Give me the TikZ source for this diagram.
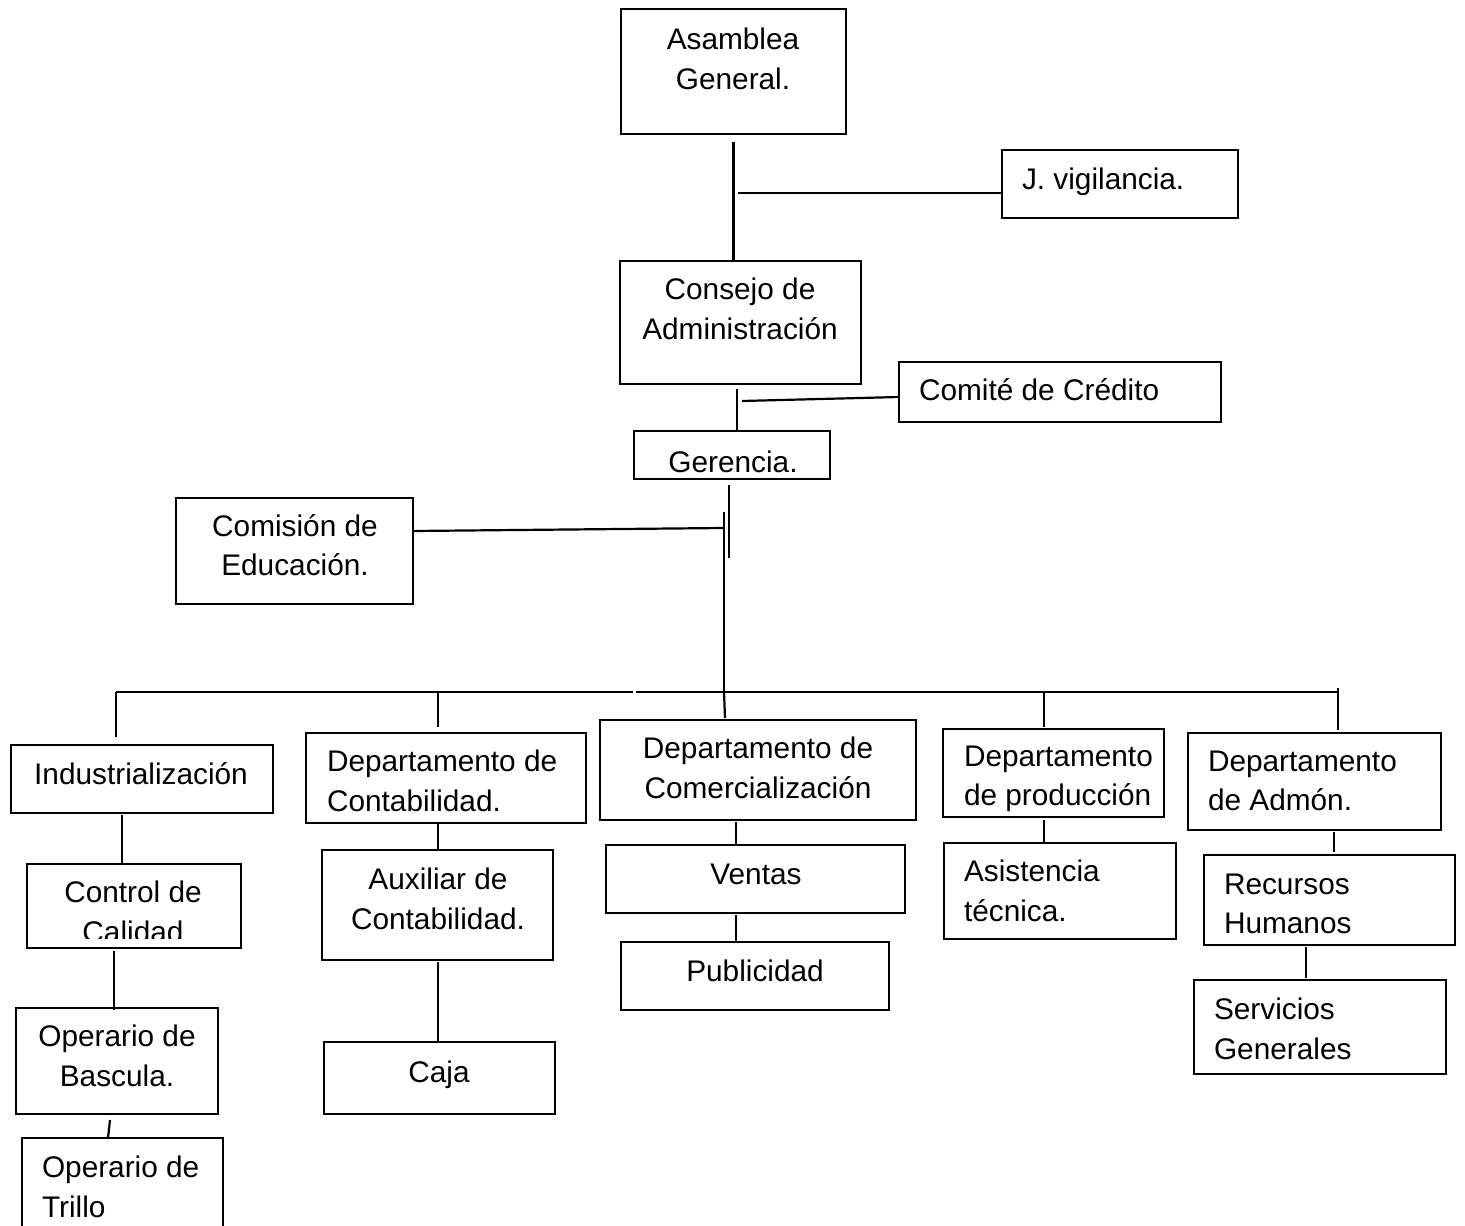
\documentclass[tikz,border=0pt]{standalone}
\usepackage{fontspec}
\setmainfont{Liberation Sans}
\usetikzlibrary{calc}
\begin{document}
\begin{tikzpicture}[x=1pt,y=-1pt,
  box/.style={draw,line width=2.4pt,rectangle,inner sep=0pt,outer sep=0pt},
  txt/.style={inner sep=0pt,outer sep=0pt,font=\fontsize{29.8}{39.5}\selectfont},
  ln/.style={line width=2.2pt}]
\useasboundingbox (0,0) rectangle (1465,1226);
\fill[white] (0,0) rectangle (1465,1226);
% boxes
\node[box,minimum width=225,minimum height=125] (asam) at (733.5,71.5) {};
\node[box,minimum width=236,minimum height=68] (vig) at (1120,184) {};
\node[box,minimum width=241,minimum height=123] (cons) at (740.5,322.5) {};
\node[box,minimum width=322,minimum height=60] (comi) at (1060,392) {};
\node[box,minimum width=196,minimum height=48] (ger) at (732,455) {};
\node[box,minimum width=237,minimum height=106] (edu) at (294.5,551) {};
\node[box,minimum width=262,minimum height=68] (ind) at (142,779) {};
\node[box,minimum width=280,minimum height=90] (cont) at (446,778) {};
\node[box,minimum width=316,minimum height=100] (com) at (758,770) {};
\node[box,minimum width=221,minimum height=88] (prod) at (1053.5,773) {};
\node[box,minimum width=253,minimum height=97] (adm) at (1314.5,781.5) {};
\node[box,minimum width=214,minimum height=84] (cal) at (134,906) {};
\node[box,minimum width=231,minimum height=110] (aux) at (437.5,905) {};
\node[box,minimum width=299,minimum height=68] (ven) at (755.5,879) {};
\node[box,minimum width=268,minimum height=68] (pub) at (755,976) {};
\node[box,minimum width=232,minimum height=96] (asis) at (1060,891) {};
\node[box,minimum width=251,minimum height=90] (rec) at (1329.5,900) {};
\node[box,minimum width=252,minimum height=94] (serv) at (1320,1027) {};
\node[box,minimum width=202,minimum height=106] (basc) at (117,1061) {};
\node[box,minimum width=231,minimum height=72] (caja) at (439.5,1078) {};
\node[box,minimum width=201,minimum height=124] (tri) at (122.5,1200) {};
% texts
\node[txt,align=center] (tasam) at (733,59) {Asamblea\\General.};
\node[txt,anchor=base west] (tvig) at (1022,189) {J. vigilancia.};
\node[txt,align=center] (tcons) at (740,309) {Consejo de\\Administración};
\node[txt,anchor=base west] (tcomi) at (919,400) {Comité de Crédito};
\node[txt,anchor=base] (tger) at (733,472) {Gerencia.};
\node[txt,align=center] (tedu) at (295,545) {Comisión de\\Educación.};
\node[txt,anchor=base] (tind) at (141,784) {Industrialización};
\node[txt,align=left,anchor=west] (tcont) at (327,781) {Departamento de\\Contabilidad.};
\node[txt,align=center] (tcom) at (758,768) {Departamento de\\Comercialización};
\node[txt,align=left,anchor=west] (tprod) at (964,779) {Departamento\\de producción};
\node[txt,align=left,anchor=west] (tadm) at (1208,781) {Departamento\\de Admón.};
\begin{scope}
\clip (27,864) rectangle (241,938);
\node[txt,align=center] (tcal) at (133,912) {Control de\\Calidad};
\end{scope}
\node[txt,align=center] (taux) at (438,899) {Auxiliar de\\Contabilidad.};
\node[txt,anchor=base] (tven) at (756,884) {Ventas};
\node[txt,anchor=base] (tpub) at (755,981) {Publicidad};
\node[txt,align=left,anchor=west] (tasis) at (964,891) {Asistencia\\técnica.};
\node[txt,align=left,anchor=west] (trec) at (1224,904) {Recursos\\Humanos};
\node[txt,align=left,anchor=west] (tserv) at (1214,1029) {Servicios\\Generales};
\node[txt,align=center] (tbasc) at (117,1056) {Operario de\\Bascula.};
\node[txt,anchor=base] (tcaja) at (439,1082) {Caja};
\node[txt,align=left,anchor=west] (ttri) at (42,1187) {Operario de\\Trillo};
% connectors
\draw[ln] ($(asam.south)+(0,8)$) -- (asam.south |- cons.north);
\draw[ln] ($(vig.west -| asam.south)+(4,9)$) -- ($(vig.west)+(0,9)$);
\draw[ln] ($(cons.south)+(-3.5,5)$) -- ($(ger.north)+(5,0)$);
\draw[ln] ($(cons.south)+(1.5,17)$) -- ($(comi.west)+(0,5)$);
\draw[ln] ($(ger.south)+(-3,6)$) -- ++(0,73);
\coordinate (trunk) at (724,512);
\coordinate (busC) at (724,692);
\coordinate (busL) at (116,692);
\coordinate (busR) at (1338,692);
\draw[ln] (trunk) -- (busC);
\draw[ln] ($(edu.east)+(0,-20)$) -- (724,528);
\draw[ln] (busL) -- (633,692);
\draw[ln] (636,692) -- (busR);
\draw[ln] (busL) -- ($(ind.north)+(-26,-8)$);
\draw[ln] (438,692) -- ($(cont.north)+(-8,-6)$);
\draw[ln] (busC) -- ($(com.north)+(-33,-2)$);
\draw[ln] (1044,692) -- ($(prod.north)+(-9.5,-2)$);
\draw[ln] ($(busR)+(0,-4)$) -- ($(adm.north)+(23.5,-3)$);
\draw[ln] ($(ind.south)+(-20,2)$) -- ($(cal.north)+(-12,0)$);
\draw[ln] ($(cal.south)+(-20,3)$) -- ($(basc.north)+(-3,2)$);
\draw[ln] ($(basc.south)+(-7,6)$) -- ($(tri.north)+(-14.5,0)$);
\draw[ln] ($(cont.south)+(-8,0)$) -- ($(aux.north)+(0.5,0)$);
\draw[ln] ($(aux.south)+(0.5,2)$) -- ($(caja.north)+(-1.5,0)$);
\draw[ln] ($(com.south)+(-22,2)$) -- ($(ven.north)+(-19.5,0)$);
\draw[ln] ($(ven.south)+(-19.5,2)$) -- ($(pub.north)+(-19,0)$);
\draw[ln] ($(prod.south)+(-9.5,3)$) -- ($(asis.north)+(-16,0)$);
\draw[ln] ($(adm.south)+(19.5,2)$) -- ($(rec.north)+(4.5,-3)$);
\draw[ln] ($(rec.south)+(-23.5,2)$) -- ($(serv.north)+(-14,-2)$);
\end{tikzpicture}
\end{document}
